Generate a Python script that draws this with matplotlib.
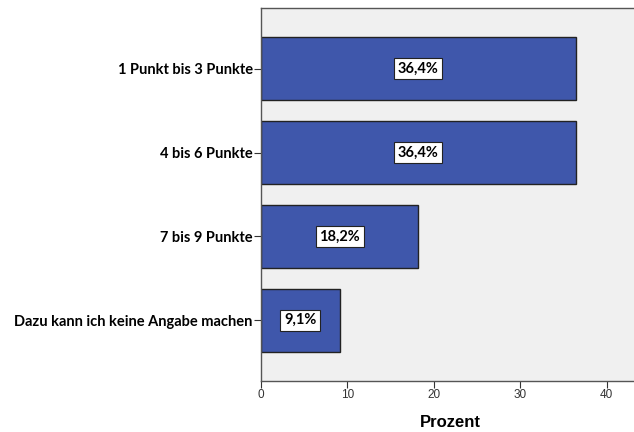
import matplotlib.pyplot as plt

categories = ["1 Punkt bis 3 Punkte", "4 bis 6 Punkte", "7 bis 9 Punkte",
              "Dazu kann ich keine Angabe machen"]
percent = [36.4, 36.4, 18.2, 9.1]
labels = ["36,4%", "36,4%", "18,2%", "9,1%"]
xticks = [0, 10, 20, 30, 40]

fig = plt.figure(figsize=(6.34, 4.32), dpi=100)
ax = fig.add_axes([261 / 634, 1 - 381 / 432, 1 - 261 / 634 + 0.01, 373 / 432])
ax.set_facecolor("#f0f0f0")

pos = list(range(len(categories)))
ax.barh(pos, percent, height=0.75, color="#3f57ab", edgecolor="#222222", linewidth=1)

for p, v, lab in zip(pos, percent, labels):
    ax.text(v / 2, p, lab, ha="center", va="center", fontsize=10.5, fontweight="bold",
            family="Lato",
            bbox=dict(boxstyle="square,pad=0.25", facecolor="white", edgecolor="#222222", lw=0.8))

ax.set_ylim(3.726, -0.726)
ax.set_xlim(0, 43.9)
ax.set_yticks(pos)
ax.set_yticklabels(categories, fontsize=10.5, fontweight="bold", family="Lato")
ax.set_xticks(xticks)
ax.set_xticklabels([str(t) for t in xticks], fontsize=8.5, family="Liberation Sans", color="#333333")
ax.tick_params(axis="both", length=5, width=0.8, color="#333333", pad=1)
ax.set_xlabel("Prozent", fontsize=12, fontweight="bold", family="Liberation Sans", labelpad=10)

for s in ["left", "bottom", "top"]:
    ax.spines[s].set_color("#555555")
    ax.spines[s].set_linewidth(1)
ax.spines["right"].set_visible(False)

fig.savefig("out.png", dpi=100)
